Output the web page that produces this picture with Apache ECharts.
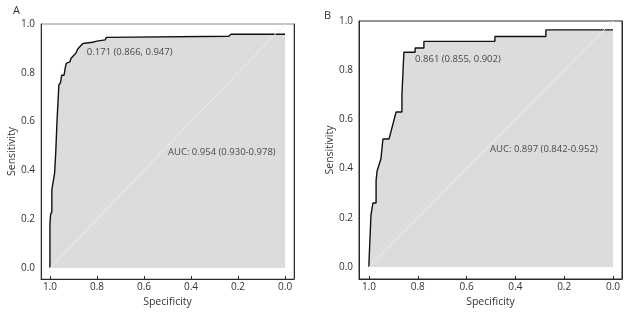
<!DOCTYPE html>
<html>
<head>
<meta charset="utf-8">
<script src="https://cdn.jsdelivr.net/npm/echarts@6/dist/echarts.min.js"></script>
<style>
  html, body { margin: 0; padding: 0; background: #fff; }
  #chart { width: 635px; height: 313px; }
</style>
</head>
<body>
<div id="chart"></div>
<script>
// ROC curve A, [specificity, sensitivity] stair vertices
const rocA = [
  [1.000, 0.000], [1.000, 0.180], [0.997, 0.220], [0.992, 0.230], [0.992, 0.320],
  [0.980, 0.390], [0.975, 0.480], [0.970, 0.600], [0.962, 0.750], [0.955, 0.760],
  [0.950, 0.790], [0.940, 0.790], [0.935, 0.820], [0.930, 0.840], [0.915, 0.845],
  [0.910, 0.860], [0.900, 0.870], [0.890, 0.880], [0.880, 0.900], [0.870, 0.910],
  [0.860, 0.920], [0.820, 0.925], [0.800, 0.930], [0.765, 0.935], [0.760, 0.945],
  [0.240, 0.950], [0.230, 0.958], [0.000, 0.958],
]

// ROC curve B
const rocB = [
  [1.000, 0.000], [1.000, 0.020], [0.992, 0.020], [0.992, 0.210], [0.984, 0.210],
  [0.984, 0.260], [0.971, 0.260], [0.971, 0.350], [0.967, 0.350], [0.967, 0.390],
  [0.951, 0.440], [0.943, 0.440], [0.943, 0.520], [0.918, 0.520], [0.889, 0.630],
  [0.865, 0.630], [0.865, 0.700], [0.857, 0.700], [0.857, 0.873], [0.811, 0.873],
  [0.811, 0.890], [0.775, 0.890], [0.775, 0.917], [0.484, 0.917], [0.484, 0.937],
  [0.275, 0.937], [0.275, 0.964], [0.000, 0.964],
]

const diagonal = [[1, 0], [0, 1]]
const tickValues = [0, 0.2, 0.4, 0.6, 0.8, 1.0]

const cutoffA = { text: '0.171 (0.866, 0.947)', at: [0.843, 0.885] }
const aucA = { text: 'AUC: 0.954 (0.930-0.978)', at: [0.498, 0.475] }
const cutoffB = { text: '0.861 (0.855, 0.902)', at: [0.811, 0.845] }
const aucB = { text: 'AUC: 0.897 (0.842-0.952)', at: [0.504, 0.478] }

const FONT = 'Open Sans'
const TEXT = '#333'
const LINE = '#2a2a2a'

function xAxisFor(gridIndex, min, max) {
  return {
    type: 'value',
    gridIndex,
    inverse: true,
    min,
    max,
    name: 'Specificity',
    nameLocation: 'middle',
    nameGap: 11,
    nameTextStyle: { color: TEXT, fontFamily: FONT, fontSize: 10.5 },
    axisLine: { show: true, onZero: false, lineStyle: { color: LINE, width: 1 } },
    axisTick: { show: true, inside: true, length: 3, customValues: tickValues, lineStyle: { color: LINE } },
    axisLabel: {
      customValues: tickValues,
      color: TEXT,
      fontFamily: FONT,
      fontSize: 10,
      margin: 3,
      formatter: (v) => v.toFixed(1),
    },
    splitLine: { show: false },
  }
}

function yAxisFor(gridIndex, min, max) {
  return {
    type: 'value',
    gridIndex,
    min,
    max,
    name: 'Sensitivity',
    nameLocation: 'middle',
    nameGap: 23,
    nameTextStyle: { color: TEXT, fontFamily: FONT, fontSize: 10.5 },
    axisLine: { show: true, onZero: false, lineStyle: { color: LINE, width: 1 } },
    axisTick: { show: false, customValues: tickValues },
    axisLabel: {
      customValues: tickValues,
      color: TEXT,
      fontFamily: FONT,
      fontSize: 10,
      margin: 6,
      formatter: (v) => v.toFixed(1),
    },
    splitLine: { show: false },
  }
}

function rightEdge(gridIndex, min, max) {
  return {
    type: 'value',
    gridIndex,
    position: 'right',
    min,
    max,
    axisLine: { show: true, onZero: false, lineStyle: { color: LINE, width: 1 } },
    axisTick: { show: false },
    axisLabel: { show: false },
    splitLine: { show: false },
  }
}

function rocSeries(data, xi, yi) {
  return {
    type: 'line',
    xAxisIndex: xi,
    yAxisIndex: yi,
    data,
    symbol: 'none',
    silent: true,
    lineStyle: { color: '#111', width: 1.4 },
    areaStyle: { color: '#dcdcdc', opacity: 1, origin: 0 },
    z: 2,
  }
}

function diagSeries(xi, yi) {
  return {
    type: 'line',
    xAxisIndex: xi,
    yAxisIndex: yi,
    data: diagonal,
    symbol: 'none',
    silent: true,
    lineStyle: { color: '#ededed', width: 1 },
    z: 3,
  }
}

function noteSeries(notes, xi, yi) {
  return {
    type: 'scatter',
    xAxisIndex: xi,
    yAxisIndex: yi,
    symbolSize: 0,
    silent: true,
    data: notes.map((n) => ({
      value: n.at,
      label: {
        show: true,
        position: 'right',
        distance: 0,
        formatter: n.text,
        color: '#222',
        fontFamily: FONT,
        fontSize: 9.5,
      },
    })),
    z: 4,
  }
}

const chart = echarts.init(document.getElementById('chart'), null, { renderer: 'canvas' })

chart.setOption({
  animation: false,
  backgroundColor: '#fff',
  title: [
    { text: 'A', left: 8, top: 0, textStyle: { fontFamily: FONT, fontSize: 11, fontWeight: 'normal', color: TEXT } },
    { text: 'B', left: 319, top: 5, textStyle: { fontFamily: FONT, fontSize: 11, fontWeight: 'normal', color: TEXT } },
  ],
  grid: [
    { left: 41, right: 341, top: 24, bottom: 34, show: true, borderColor: '#8a8a8a', borderWidth: 1 },
    { left: 359, right: 13, top: 21, bottom: 34, show: true, borderColor: LINE, borderWidth: 1 },
  ],
  xAxis: [
    xAxisFor(0, -0.038, 1.038),
    xAxisFor(1, -0.037, 1.041),
  ],
  yAxis: [
    yAxisFor(0, -0.045, 1.0),
    rightEdge(0, -0.045, 1.0),
    yAxisFor(1, -0.049, 1.0),
    rightEdge(1, -0.049, 1.0),
  ],
  series: [
    rocSeries(rocA, 0, 0),
    diagSeries(0, 0),
    noteSeries([cutoffA, aucA], 0, 0),
    rocSeries(rocB, 1, 2),
    diagSeries(1, 2),
    noteSeries([cutoffB, aucB], 1, 2),
  ],
})
</script>
</body>
</html>
